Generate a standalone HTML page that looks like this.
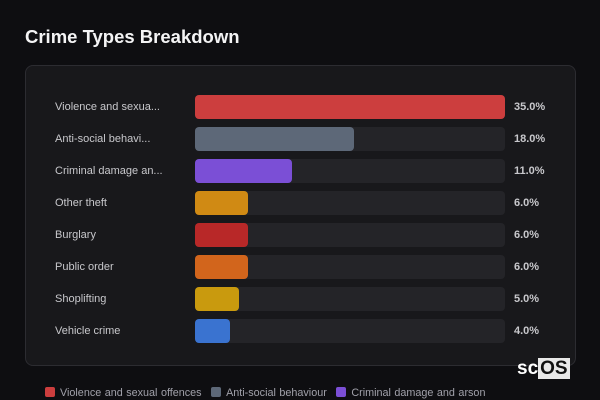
<!DOCTYPE html>
<html><head><style>
body{margin:0;width:600px;height:400px;background:#0e0e11;font-family:"Liberation Sans",sans-serif;overflow:hidden;position:relative}
h1{position:absolute;left:25px;top:26px;margin:0;font-size:18.5px;font-weight:bold;color:#f4f4f5}
.card{position:absolute;left:25px;top:65px;width:549px;height:299px;border:1px solid #2c2c31;border-radius:8px;background:#18181b}
.row{position:absolute;left:0;height:24px;width:600px}
.lab{position:absolute;left:55px;top:6px;font-size:11px;color:#c8c8cc}
.trk{position:absolute;left:195px;top:0;width:310px;height:24px;background:#242428;border-radius:4px}
.bar{position:absolute;left:0;top:0;height:24px;border-radius:4px}
.val{position:absolute;left:514px;top:6px;font-size:11px;font-weight:bold;color:#c8c8cc}
.leg{position:absolute;top:387px;left:45px;font-size:10.8px;color:#a1a1aa;white-space:nowrap;word-spacing:0.5px}
.leg span{display:inline-block;width:10px;height:10px;border-radius:2px;vertical-align:-1px;margin-right:5px;margin-left:6px}
.leg span:first-child{margin-left:0}
.logo{position:absolute;left:517px;top:358px;font-size:19px;font-weight:bold;color:#fff}
.logo b{background:#e8e8e8;color:#111;padding:0 2px}
</style></head><body>
<h1>Crime Types Breakdown</h1>
<div class="card"></div>
<div class="row" style="top:95px"><div class="lab">Violence and sexua...</div><div class="trk"><div class="bar" style="width:310px;background:#cc3e3e"></div></div><div class="val">35.0%</div></div>
<div class="row" style="top:127px"><div class="lab">Anti-social behavi...</div><div class="trk"><div class="bar" style="width:159px;background:#5d6878"></div></div><div class="val">18.0%</div></div>
<div class="row" style="top:159px"><div class="lab">Criminal damage an...</div><div class="trk"><div class="bar" style="width:97px;background:#7b4fd6"></div></div><div class="val">11.0%</div></div>
<div class="row" style="top:191px"><div class="lab">Other theft</div><div class="trk"><div class="bar" style="width:53px;background:#d08a14"></div></div><div class="val">6.0%</div></div>
<div class="row" style="top:223px"><div class="lab">Burglary</div><div class="trk"><div class="bar" style="width:53px;background:#b82828"></div></div><div class="val">6.0%</div></div>
<div class="row" style="top:255px"><div class="lab">Public order</div><div class="trk"><div class="bar" style="width:53px;background:#d2651c"></div></div><div class="val">6.0%</div></div>
<div class="row" style="top:287px"><div class="lab">Shoplifting</div><div class="trk"><div class="bar" style="width:44px;background:#c99a0e"></div></div><div class="val">5.0%</div></div>
<div class="row" style="top:319px"><div class="lab">Vehicle crime</div><div class="trk"><div class="bar" style="width:35px;background:#3a73d0"></div></div><div class="val">4.0%</div></div>
<div class="leg"><span style="background:#cc3e3e"></span>Violence and sexual offences <span style="background:#5d6878"></span>Anti-social behaviour <span style="background:#7b4fd6"></span>Criminal damage and arson</div>
<div class="logo">sc<b>OS</b></div>
</body></html>
